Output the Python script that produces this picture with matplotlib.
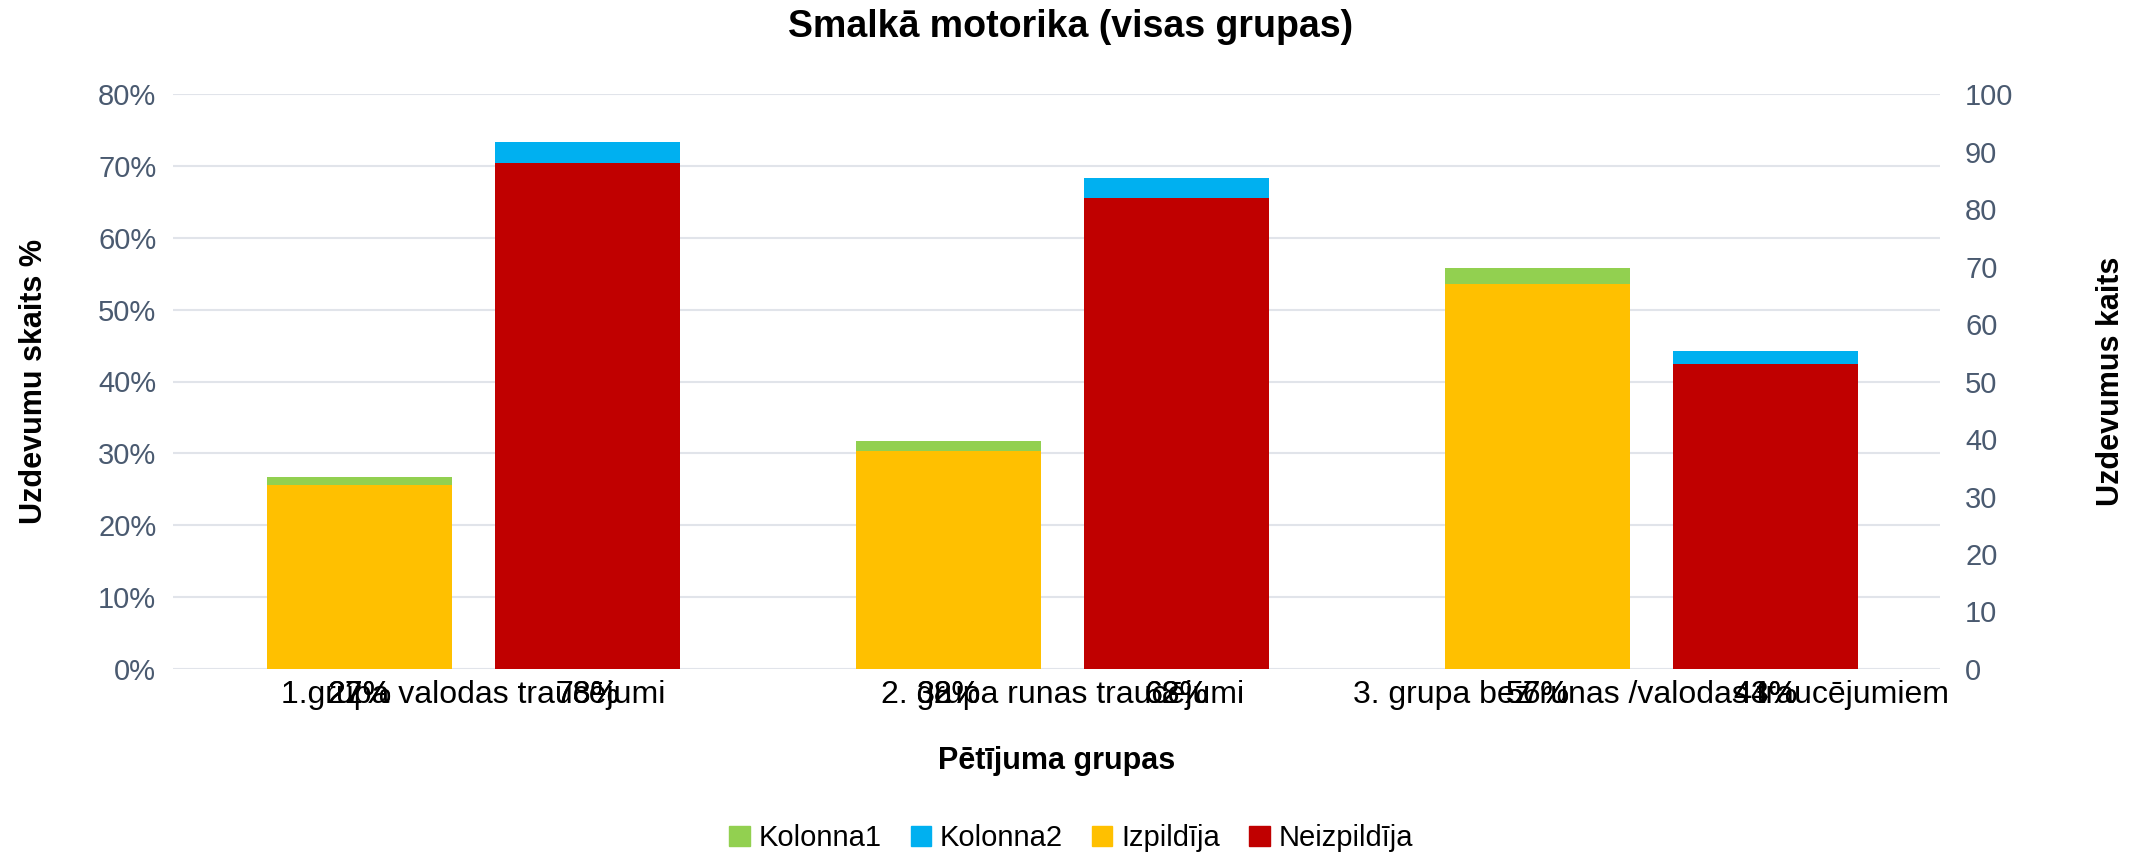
import matplotlib
matplotlib.use("Agg")
import matplotlib.pyplot as plt
import numpy as np
from matplotlib.patches import Patch

plt.rcParams['font.family'] = ['Liberation Sans', 'DejaVu Sans']

categories = ["1.grupa valodas traucējumi", "2. grupa runas traucējumi",
              "3. grupa bez runas /valodas traucējumiem"]
kolonna1 = [26.7, 31.7, 55.8]     # % (left axis)
kolonna2 = [73.3, 68.3, 44.2]     # % (left axis)
izpildija = [32, 38, 67]          # count (right axis)
neizpildija = [88, 82, 53]        # count (right axis)
labels_izp = [["27%", "22%"], ["32%", "38%"], ["56%", "57%"]]
labels_neizp = [["73%", "78%"], ["68%", "62%"], ["44%", "43%"]]

c_green, c_blue, c_yellow, c_red = "#92D050", "#00B0F0", "#FFC000", "#C00000"
tick_col = "#4A5A70"

fig = plt.figure(figsize=(21.42, 8.57), dpi=100)
ax = fig.add_axes([173/2142, 1-669/857, (1940-173)/2142, (669-94)/857])
ax2 = ax.twinx()

x = np.arange(len(categories))
w = 0.314
off = 0.193

ax.bar(x - off, kolonna1, width=w, color=c_green, zorder=2)
ax.bar(x + off, kolonna2, width=w, color=c_blue, zorder=2)
ax2.bar(x - off, izpildija, width=w, color=c_yellow, zorder=3)
ax2.bar(x + off, neizpildija, width=w, color=c_red, zorder=3)

ax.set_xlim(-0.51, 2.49)
ax.set_ylim(0, 80)
ax2.set_ylim(0, 100)
ax.set_yticks(np.arange(0, 81, 10))
ax.set_yticklabels([f"{v}%" for v in range(0, 81, 10)])
ax2.set_yticks(np.arange(0, 101, 10))
ax.grid(axis='y', color="#E1E4EA", linewidth=1.5, zorder=0)
ax.set_axisbelow(True)
for a in (ax, ax2):
    for s in a.spines.values():
        s.set_visible(False)
    a.tick_params(axis='both', length=0)
ax.tick_params(axis='y', labelsize=21, labelcolor=tick_col, pad=12)
ax2.tick_params(axis='y', labelsize=21, labelcolor=tick_col, pad=18)
ax.set_xticks(x)
ax.set_xticklabels(categories, fontsize=23, color="black")
ax.tick_params(axis='x', pad=8)

for i in range(len(categories)):
    for lab in labels_izp[i]:
        ax.annotate(lab, xy=(x[i] - off, 0), xycoords=('data', 'axes fraction'),
                    xytext=(0, -8), textcoords='offset points', ha='center', va='top',
                    fontsize=23, color="black")
    for lab in labels_neizp[i]:
        ax.annotate(lab, xy=(x[i] + off, 0), xycoords=('data', 'axes fraction'),
                    xytext=(0, -8), textcoords='offset points', ha='center', va='top',
                    fontsize=23, color="black")

ax.set_ylabel("Uzdevumu skaits %", fontsize=22, fontweight='bold')
ax.yaxis.set_label_coords(-0.0702, 0.5)
ax2.set_ylabel("Uzdevumus kaits", fontsize=22, fontweight='bold')
ax2.yaxis.set_label_coords(1.0883, 0.5)
ax.set_xlabel("Pētījuma grupas", fontsize=22, fontweight='bold')
ax.xaxis.set_label_coords(0.5, -0.134)
fig.text(0.5, 1-27/857, "Smalkā motorika (visas grupas)", fontsize=27, fontweight='bold',
         ha='center', va='center')

handles = [Patch(color=c_green), Patch(color=c_blue), Patch(color=c_yellow), Patch(color=c_red)]
fig.legend(handles, ["Kolonna1", "Kolonna2", "Izpildīja", "Neizpildīja"], loc='center',
           bbox_to_anchor=(0.5, 1 - 838/857), ncol=4, frameon=False, fontsize=21,
           handlelength=0.7, handleheight=0.7, handletextpad=0.3, columnspacing=1.0)

fig.savefig("out.png", dpi=100)
